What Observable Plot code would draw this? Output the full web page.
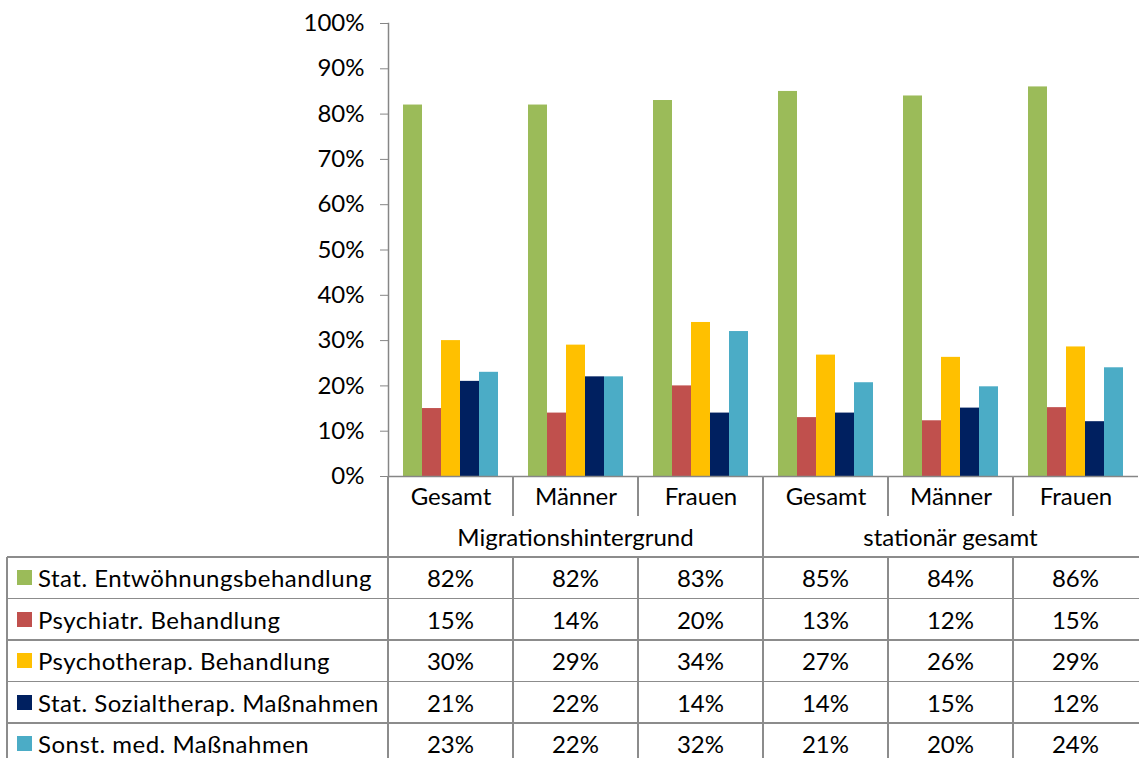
<!DOCTYPE html>
<html><head><meta charset="utf-8">
<script src="https://cdn.jsdelivr.net/npm/d3@7"></script>
<script src="https://cdn.jsdelivr.net/npm/@observablehq/plot@0.6"></script>
<style>
body{margin:0;background:#fff;}
#wrap{position:relative;width:1139px;height:758px;overflow:hidden;font-family:Lato,sans-serif;background:#fff;}
#chart{position:absolute;left:0;top:0;}
.ln{position:absolute;background:#8c8c8c;}
.cell{position:absolute;display:flex;align-items:center;font-size:24px;color:#000;white-space:nowrap;}
.lab{letter-spacing:0.5px;}
.sw{display:inline-block;width:15px;height:15px;margin-right:6px;}
</style></head>
<body><div id="wrap"><div id="chart"></div><div id="table"></div></div>
<script>
// ---- data ----
const categories = ["Gesamt", "Männer", "Frauen"];
const groups = ["Migrationshintergrund", "stationär gesamt"];
const series = ["Stat. Entwöhnungsbehandlung", "Psychiatr. Behandlung", "Psychotherap. Behandlung", "Stat. Sozialtherap. Maßnahmen", "Sonst. med. Maßnahmen"];
const colors = ["#9BBB59", "#C0504D", "#FFC000", "#002060", "#4BACC6"];
// values per series, columns: Migr. Gesamt, Männer, Frauen, stationär Gesamt, Männer, Frauen
const entwoehnung   = [82, 82, 83, 85, 84, 86];
const psychiatr     = [15, 14, 20, 13, 12.3, 15.2];
const psychotherap  = [30, 29, 34, 26.8, 26.3, 28.6];
const sozialtherap  = [21, 22, 14, 14, 15.1, 12.1];
const sonstMed      = [23, 22, 32, 20.7, 19.8, 24];
const yTicks = [0, 10, 20, 30, 40, 50, 60, 70, 80, 90, 100];

const seriesValues = [entwoehnung, psychiatr, psychotherap, sozialtherap, sonstMed];
const keys = [];
groups.forEach(g => categories.forEach(c => keys.push(g + "|" + c)));
const data = [];
keys.forEach((k, i) => series.forEach((s, j) => data.push({col: k, series: s, value: seriesValues[j][i]})));

const W = 1139, H = 557, ML = 387, MT = 23, MB = 81;
const chart = Plot.plot({
  width: W, height: H, marginLeft: ML, marginRight: 0, marginTop: MT, marginBottom: MB,
  style: {fontFamily: "Lato, sans-serif", fontSize: "24px", color: "#000", background: "transparent"},
  fx: {domain: keys, padding: 0, label: null},
  x: {domain: series, paddingInner: 0, paddingOuter: 0.75, axis: null},
  y: {domain: [0, 100], label: null},
  color: {domain: series, range: colors},
  marks: [
    Plot.barY(data, {fx: "col", x: "series", y: "value", fill: "series"}),
    Plot.ruleY([0], {stroke: "#868686", strokeWidth: 1.5}),
    Plot.frame({anchor: "left", facetAnchor: "left", stroke: "#868686", strokeWidth: 1.5}),
    Plot.axisY(yTicks, {tickSize: 8, tickPadding: 16, tickFormat: d => d + "%", stroke: "#868686", fill: "#000", label: null}),
    Plot.axisFx({anchor: "bottom", tickSize: 0, tickPadding: 11, tickFormat: k => k.split("|")[1], label: null, fill: "#000"})
  ]
});
document.getElementById("chart").appendChild(chart);

// ---- data table below the chart ----
const fxs = chart.scale("fx");
const bw = (fxs && fxs.bandwidth) ? fxs.bandwidth : (W - ML) / keys.length;
const edges = keys.map((k, i) => (fxs && fxs.apply) ? fxs.apply(k) : ML + i * bw);
edges.push(edges[edges.length - 1] + bw);
const tbl = document.getElementById("table");
const tableLeft = 7, axisY0 = H - MB, catBottom = 516, tableTop = 557, rowH = 41.5, bottom = 758;
function line(x, y, w, h) {
  const d = document.createElement("div"); d.className = "ln";
  Object.assign(d.style, {left: x + "px", top: y + "px", width: w + "px", height: h + "px"});
  tbl.appendChild(d);
}
function cell(x, y, w, h, html, center, cls) {
  const d = document.createElement("div"); d.className = "cell" + (cls ? " " + cls : "");
  Object.assign(d.style, {left: x + "px", top: y + "px", width: w + "px", height: h + "px", justifyContent: center ? "center" : "flex-start"});
  d.innerHTML = html; tbl.appendChild(d);
}
// horizontal lines
for (let r = 0; r < series.length; r++) line(tableLeft, tableTop + r * rowH - 0.75, W - tableLeft, 1.5);
// vertical lines
line(tableLeft - 0.75, tableTop, 1.5, bottom - tableTop);
edges.slice(0, keys.length).forEach((x, i) => {
  if (i % categories.length === 0) line(x - 0.75, axisY0, 1.5, bottom - axisY0);
  else { line(x - 0.75, axisY0, 1.5, catBottom - axisY0); line(x - 0.75, tableTop, 1.5, bottom - tableTop); }
});
// group labels
groups.forEach((g, gi) => {
  const x0 = edges[gi * categories.length], x1 = edges[(gi + 1) * categories.length];
  cell(x0, catBottom, x1 - x0, tableTop - catBottom, g, true);
});
// rows
series.forEach((s, r) => {
  const y = tableTop + r * rowH;
  cell(tableLeft + 10, y, ML - tableLeft - 10, rowH, `<span class="sw" style="background:${colors[r]}"></span>${s}`, false, "lab");
  keys.forEach((k, i) => cell(edges[i], y, bw, rowH, Math.round(seriesValues[r][i]) + "%", true));
});
</script>
</body></html>
